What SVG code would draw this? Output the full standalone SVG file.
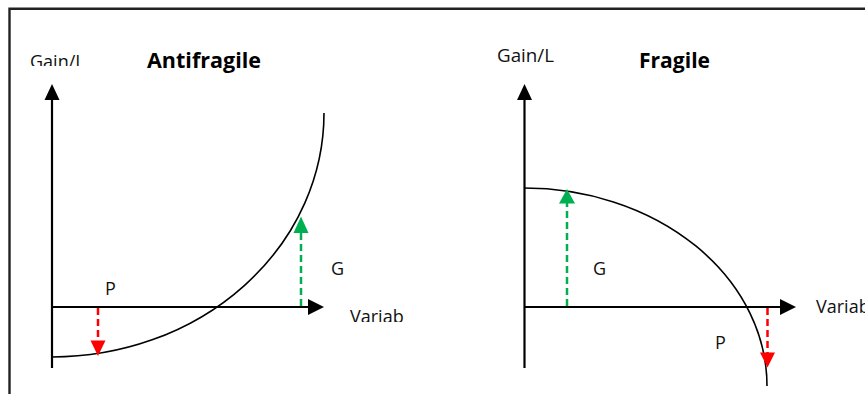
<svg xmlns="http://www.w3.org/2000/svg" width="865" height="394" viewBox="0 0 865 394">
<defs>
<style>
.lbl{font-family:"Open Sans","Liberation Sans",sans-serif;font-size:18px;fill:#111}
.ttl{font-family:"Open Sans","Liberation Sans",sans-serif;font-size:22px;font-weight:bold;fill:#000;font-variant-ligatures:none}
.axis{stroke:#000;stroke-width:2.2;fill:none}
.curve{stroke:#000;stroke-width:1.6;fill:none}
.ah{fill:#000}
.gd{stroke:#00b050;stroke-width:2.5;stroke-dasharray:7 4;fill:none}
.rd{stroke:#ff0000;stroke-width:2.5;stroke-dasharray:7 4;fill:none}
.gh{fill:#00b050}
.rh{fill:#ff0000}
</style>
<clipPath id="cGainL"><rect x="0" y="0" width="84" height="66"/></clipPath>
<clipPath id="cVarL"><rect x="300" y="280" width="200" height="42"/></clipPath>
</defs>
<path d="M9.5,394 V8.7 H865" fill="none" stroke="#222" stroke-width="2.4"/>

<g id="antifragile">
  <g id="af-yaxis">
    <line class="axis" x1="52" y1="368" x2="52" y2="98"/>
    <polygon class="ah" points="52,84 44.5,100 59.5,100"/>
  </g>
  <g id="af-xaxis">
    <line class="axis" x1="52" y1="307" x2="309" y2="307"/>
    <polygon class="ah" points="324,307 308,299 308,315"/>
  </g>
  <g id="af-curve">
    <path class="curve" d="M52,357 A272,244 0 0 0 324,113"/>
  </g>
  <g id="af-title"><text class="ttl" x="147" y="68" textLength="114" lengthAdjust="spacingAndGlyphs">Antifragile</text></g>
  <g id="af-ylabel"><text class="lbl" x="30" y="68" clip-path="url(#cGainL)">Gain/L</text></g>
  <g id="af-xlabel"><text class="lbl" x="350" y="323" clip-path="url(#cVarL)">Variab</text></g>
  <g id="af-p"><text class="lbl" x="105" y="295">P</text></g>
  <g id="af-g"><text class="lbl" x="331" y="274.5">G</text></g>
</g>

<g id="fragile">
  <g id="f-yaxis">
    <line class="axis" x1="524.5" y1="368" x2="524.5" y2="98"/>
    <polygon class="ah" points="524.5,84 517,100 532,100"/>
  </g>
  <g id="f-xaxis">
    <line class="axis" x1="524" y1="307" x2="782" y2="307"/>
    <polygon class="ah" points="796,307 780,299 780,315"/>
  </g>
  <g id="f-curve">
    <path class="curve" d="M524,188 A243,198 0 0 1 767,386"/>
  </g>
  <g id="f-title"><text class="ttl" x="639" y="68" textLength="71" lengthAdjust="spacingAndGlyphs">Fragile</text></g>
  <g id="f-ylabel"><text class="lbl" x="497" y="61.5" textLength="57" lengthAdjust="spacingAndGlyphs">Gain/L</text></g>
  <g id="f-xlabel"><text class="lbl" x="816" y="312.5">Variab</text></g>
  <g id="f-g"><text class="lbl" x="593" y="274.5">G</text></g>
  <g id="f-p"><text class="lbl" x="715" y="349">P</text></g>
</g>

<g id="connectors">
  <line class="rd" x1="98" y1="308" x2="98" y2="341"/>
  <polygon class="rh" points="98,356 90.5,340.5 105.5,340.5"/>
  <line class="gd" x1="301" y1="306" x2="301" y2="232"/>
  <polygon class="gh" points="301,216.5 293.5,233 308.5,233"/>
  <line class="gd" x1="567" y1="306" x2="567" y2="203"/>
  <polygon class="gh" points="567,189 559,203.5 575,203.5"/>
  <line class="rd" x1="767.5" y1="308" x2="767.5" y2="353"/>
  <polygon class="rh" points="767.5,367.5 760,352.5 775,352.5"/>
</g>
</svg>
